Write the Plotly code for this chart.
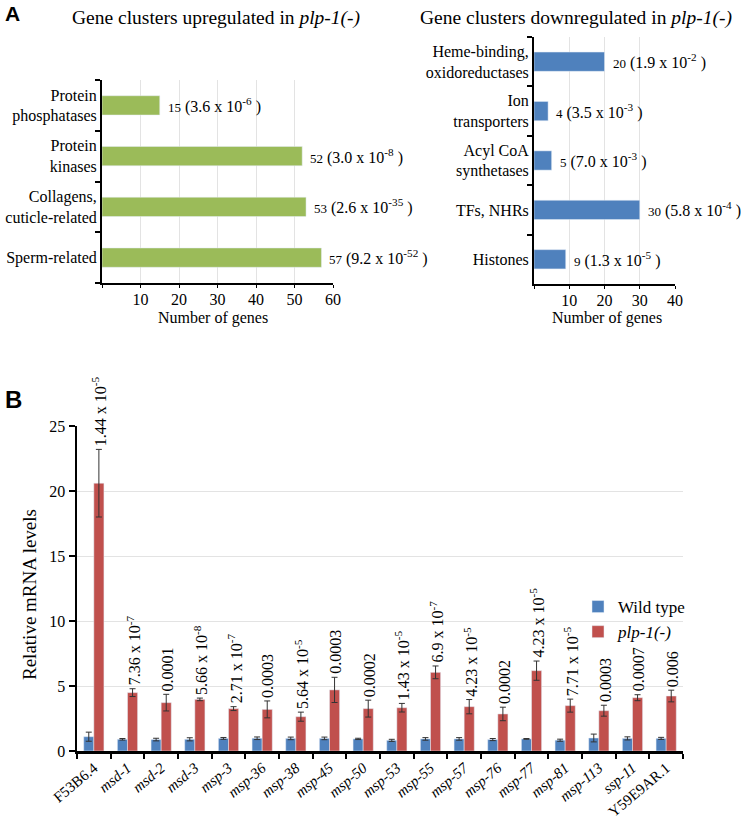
import plotly.graph_objects as go

# ---------------- Data ----------------
up_categories = ["Sperm-related", "Collagens,<br>cuticle-related", "Protein<br>kinases", "Protein<br>phosphatases"]
up_counts = [57, 53, 52, 15]
up_pvals = ["9.2 x 10<sup>-52</sup>", "2.6 x 10<sup>-35</sup>", "3.0 x 10<sup>-8</sup>", "3.6 x 10<sup>-6</sup>"]

down_categories = ["Histones", "TFs, NHRs", "Acyl CoA<br>synthetases", "Ion<br>transporters", "Heme-binding,<br>oxidoreductases"]
down_counts = [9, 30, 5, 4, 20]
down_pvals = ["1.3 x 10<sup>-5</sup>", "5.8 x 10<sup>-4</sup>", "7.0 x 10<sup>-3</sup>", "3.5 x 10<sup>-3</sup>", "1.9 x 10<sup>-2</sup>"]

genes = ["F53B6.4", "msd-1", "msd-2", "msd-3", "msp-3", "msp-36", "msp-38", "msp-45", "msp-50",
         "msp-53", "msp-55", "msp-57", "msp-76", "msp-77", "msp-81", "msp-113", "ssp-11", "Y59E9AR.1"]
gene_labels = ["F53B6.4", "<i>msd-1</i>", "<i>msd-2</i>", "<i>msd-3</i>", "<i>msp-3</i>", "<i>msp-36</i>",
               "<i>msp-38</i>", "<i>msp-45</i>", "<i>msp-50</i>", "<i>msp-53</i>", "<i>msp-55</i>",
               "<i>msp-57</i>", "<i>msp-76</i>", "<i>msp-77</i>", "<i>msp-81</i>", "<i>msp-113</i>",
               "<i>ssp-11</i>", "Y59E9AR.1"]
wt_vals = [1.1, 0.9, 0.88, 0.9, 0.97, 0.98, 0.97, 0.97, 0.93, 0.82, 0.93, 0.93, 0.88, 0.93, 0.83, 1.0, 0.97, 0.97]
wt_err = [0.35, 0.06, 0.1, 0.12, 0.07, 0.1, 0.1, 0.1, 0.05, 0.08, 0.1, 0.1, 0.08, 0.03, 0.08, 0.3, 0.12, 0.08]
mut_vals = [20.6, 4.49, 3.72, 3.97, 3.26, 3.2, 2.64, 4.7, 3.26, 3.33, 6.05, 3.41, 2.85, 6.18, 3.49, 3.1, 4.1, 4.23]
mut_err = [2.6, 0.3, 0.64, 0.1, 0.15, 0.65, 0.35, 0.97, 0.65, 0.33, 0.49, 0.55, 0.52, 0.74, 0.5, 0.42, 0.23, 0.45]
gene_pvals = ["1.44 x 10<sup>-5</sup>", "7.36 x 10<sup>-7</sup>", "0.0001", "5.66 x 10<sup>-8</sup>",
              "2.71 x 10<sup>-7</sup>", "0.0003", "5.64 x 10<sup>-5</sup>", "0.0003", "0.0002",
              "1.43 x 10<sup>-5</sup>", "6.9 x 10<sup>-7</sup>", "4.23 x 10<sup>-5</sup>", "0.0002",
              "4.23 x 10<sup>-5</sup>", "7.71 x 10<sup>-5</sup>", "0.0003", "0.0007", "0.006"]

up_ticks = [0, 10, 20, 30, 40, 50, 60]
down_ticks = [0, 10, 20, 30, 40]
b_ticks = [0, 5, 10, 15, 20, 25]

# ---------------- Style ----------------
SERIF = "Liberation Serif, Times New Roman, serif"
SANS = "Liberation Sans, Arial, sans-serif"
GREEN = "#9BBB59"
BLUE = "#4F81BD"
RED = "#C0504D"
GRID = "#E3E3E3"
W, H = 743, 817


def px_x(p):
    return p / W


def px_y(p):
    return 1 - p / H


fig = go.Figure()

fig.add_trace(go.Bar(x=up_counts, y=up_categories, orientation="h", marker_color=GREEN,
                     xaxis="x", yaxis="y", showlegend=False, width=0.38))
fig.add_trace(go.Bar(x=down_counts, y=down_categories, orientation="h", marker_color=BLUE,
                     xaxis="x2", yaxis="y2", showlegend=False, width=0.39))
fig.add_trace(go.Bar(x=genes, y=wt_vals, name="Wild type", marker_color=BLUE,
                     error_y=dict(type="data", array=wt_err, color="#333333", thickness=1, width=3),
                     xaxis="x3", yaxis="y3"))
fig.add_trace(go.Bar(x=genes, y=mut_vals, name="<i>plp-1(-)</i>", marker_color=RED,
                     error_y=dict(type="data", array=mut_err, color="#333333", thickness=1, width=3),
                     xaxis="x3", yaxis="y3"))

ann = []
for c, v, p in zip(up_categories, up_counts, up_pvals):
    ann.append(dict(x=v, y=c, xref="x", yref="y", xanchor="left", yanchor="middle", xshift=6,
                    text=f"<span style='font-size:13px'>{v}</span> ({p} )", showarrow=False,
                    font=dict(family=SERIF, size=16, color="black")))
for c, v, p in zip(down_categories, down_counts, down_pvals):
    ann.append(dict(x=v, y=c, xref="x2", yref="y2", xanchor="left", yanchor="middle", xshift=6,
                    text=f"<span style='font-size:13px'>{v}</span> ({p} )", showarrow=False,
                    font=dict(family=SERIF, size=16, color="black")))
for g, v, e, p in zip(genes, mut_vals, mut_err, gene_pvals):
    ann.append(dict(x=g, y=v + e, xref="x3", yref="y3", xanchor="center", yanchor="bottom",
                    xshift=6, yshift=1, textangle=-90, text=p, showarrow=False,
                    font=dict(family=SERIF, size=16, color="black")))

ann += [
    dict(x=px_x(3), y=px_y(13), xref="paper", yref="paper", xanchor="left", yanchor="middle",
         text="<b>A</b>", showarrow=False, font=dict(family=SANS, size=21, color="black")),
    dict(x=px_x(3), y=px_y(399), xref="paper", yref="paper", xanchor="left", yanchor="middle",
         text="<b>B</b>", showarrow=False, font=dict(family=SANS, size=24, color="black")),
    dict(x=px_x(216), y=px_y(18), xref="paper", yref="paper", xanchor="center", yanchor="middle",
         text="Gene clusters upregulated in <i>plp-1(-)</i>", showarrow=False,
         font=dict(family=SERIF, size=19.5, color="black")),
    dict(x=px_x(576), y=px_y(18), xref="paper", yref="paper", xanchor="center", yanchor="middle",
         text="Gene clusters downregulated in <i>plp-1(-)</i>", showarrow=False,
         font=dict(family=SERIF, size=19.5, color="black")),
    dict(x=px_x(213), y=px_y(318), xref="paper", yref="paper", xanchor="center", yanchor="middle",
         text="Number of genes", showarrow=False, font=dict(family=SERIF, size=16, color="black")),
    dict(x=px_x(607), y=px_y(318), xref="paper", yref="paper", xanchor="center", yanchor="middle",
         text="Number of genes", showarrow=False, font=dict(family=SERIF, size=16, color="black")),
    dict(x=px_x(29), y=px_y(595), xref="paper", yref="paper", xanchor="center", yanchor="middle",
         text="Relative mRNA levels", textangle=-90, showarrow=False,
         font=dict(family=SERIF, size=19, color="black")),
]

common_x = dict(showline=True, linecolor="black", linewidth=1.5, ticks="outside", ticklen=3,
                tickcolor="black", showgrid=True, gridcolor=GRID, gridwidth=1, zeroline=False,
                ticklabelstandoff=-2,
                tickfont=dict(family=SERIF, size=16, color="black"))
common_y = dict(showline=True, linecolor="black", linewidth=2, ticks="outside", ticklen=5,
                tickcolor="black", tickwidth=2, tickson="boundaries", showgrid=False, zeroline=False,
                tickfont=dict(family=SERIF, size=16, color="black"), type="category")

fig.update_layout(
    width=W, height=H,
    autosize=False,
    margin=dict(l=0, r=0, t=0, b=0, pad=0, autoexpand=False),
    font=dict(family=SERIF, color="black"),
    paper_bgcolor="white", plot_bgcolor="white",
    barmode="group", bargap=0.4, bargroupgap=0,
    xaxis=dict(domain=[px_x(102), px_x(333)], range=[0, 60], anchor="y",
               tickvals=up_ticks, ticktext=[""] + [str(t) for t in up_ticks[1:]], **common_x),
    yaxis=dict(domain=[px_y(283), px_y(80)], anchor="x", **common_y),
    xaxis2=dict(domain=[px_x(534), px_x(675)], range=[0, 40], anchor="y2",
                tickvals=down_ticks, ticktext=[""] + [str(t) for t in down_ticks[1:]], **common_x),
    yaxis2=dict(domain=[px_y(284), px_y(37)], anchor="x2", **common_y),
    xaxis3=dict(domain=[px_x(77), px_x(683)], anchor="y3", type="category",
                tickvals=genes, ticktext=gene_labels, tickangle=-40,
                showline=True, linecolor="black", linewidth=2.5, ticks="outside", ticklen=5,
                tickwidth=2, tickcolor="black", tickson="boundaries", showgrid=False,
                tickfont=dict(family=SERIF, size=15, color="black")),
    yaxis3=dict(domain=[px_y(751), px_y(426)], anchor="x3", range=[0, 25],
                tickvals=b_ticks, showline=True, linecolor="black", linewidth=2.5,
                ticks="outside", ticklen=6, tickwidth=2, tickcolor="black",
                showgrid=True, gridcolor=GRID, zeroline=False,
                tickfont=dict(family=SERIF, size=16, color="black")),
    legend=dict(x=px_x(578), y=px_y(589), xanchor="left", yanchor="top",
                bgcolor="rgba(0,0,0,0)", font=dict(family=SERIF, size=17, color="black"),
                itemwidth=30, tracegroupgap=0),
    hovermode=False,
    annotations=ann,
)

fig.write_html("out.html",
               config={"displayModeBar": False, "staticPlot": True},
               post_script="document.body.style.margin='0px';document.body.style.overflow='hidden';")
